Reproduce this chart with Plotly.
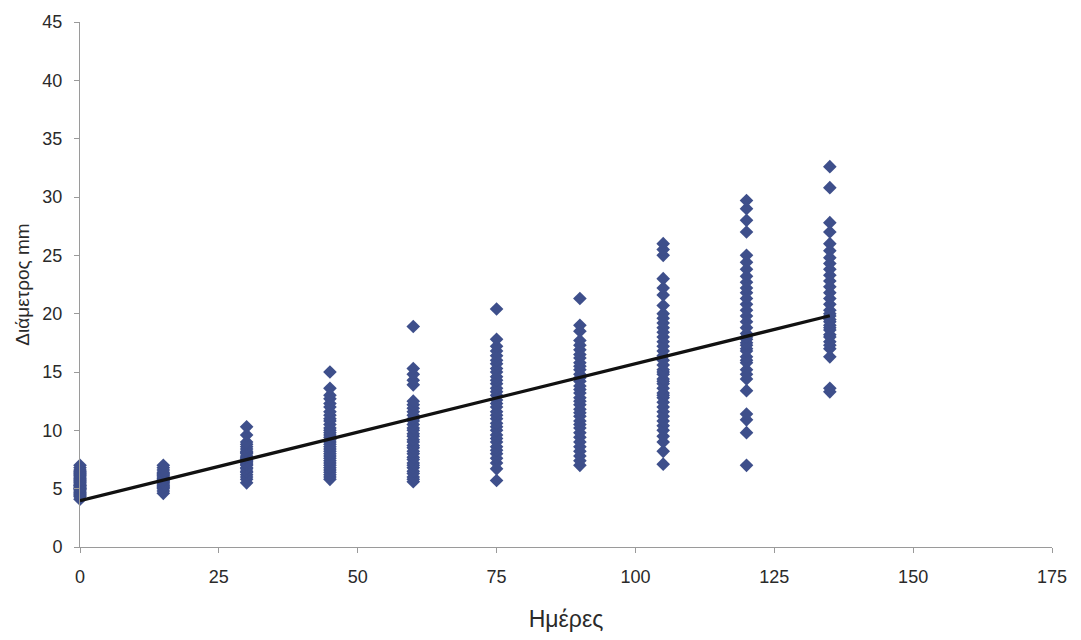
import numpy as np
import plotly.graph_objects as go

# Sampling days
days = [0, 15, 30, 45, 60, 75, 90, 105, 120, 135]

# Measured diameters (mm) per sampling day
d0 = [4.1, 4.3, 4.4, 4.5, 4.6, 4.7, 4.8, 4.9, 5.0, 5.0, 5.1, 5.2, 5.3, 5.3, 5.4,
      5.5, 5.6, 5.7, 5.8, 5.9, 6.0, 6.1, 6.2, 6.3, 6.4, 6.5, 6.6, 6.8, 7.0]
d15 = [4.6, 4.8, 5.0, 5.1, 5.2, 5.3, 5.4, 5.5, 5.6, 5.7, 5.8, 5.9, 6.0, 6.1, 6.2,
       6.3, 6.4, 6.6, 6.8, 7.0]
d30 = [5.5, 5.8, 6.0, 6.2, 6.4, 6.5, 6.7, 6.8, 7.0, 7.1, 7.2, 7.3, 7.4, 7.5, 7.6,
       7.7, 7.8, 8.0, 8.1, 8.2, 8.4, 8.6, 8.8, 9.0, 9.6, 10.3]
d45 = [5.8, 6.0, 6.2, 6.4, 6.6, 6.8, 7.0, 7.2, 7.4, 7.6, 7.8, 8.0, 8.2, 8.4, 8.6,
       8.8, 9.0, 9.2, 9.4, 9.6, 9.8, 10.0, 10.2, 10.5, 10.8, 11.0, 11.3, 11.6, 12.0,
       12.3, 12.7, 13.0, 13.6, 15.0]
d60 = [5.6, 5.8, 6.0, 6.3, 6.5, 6.8, 7.0, 7.2, 7.5, 7.7, 8.0, 8.2, 8.5, 8.7, 9.0,
       9.2, 9.5, 9.7, 10.0, 10.2, 10.5, 10.8, 11.0, 11.3, 11.6, 11.9, 12.2, 12.5,
       13.9, 14.3, 14.8, 15.3, 18.9]
d75 = [5.7, 6.7, 7.2, 7.6, 8.0, 8.3, 8.6, 9.0, 9.3, 9.6, 10.0, 10.3, 10.6, 11.0,
       11.3, 11.6, 12.0, 12.3, 12.6, 13.0, 13.3, 13.6, 14.0, 14.3, 14.6, 15.0, 15.3,
       15.7, 16.0, 16.4, 16.8, 17.2, 17.8, 20.4]
d90 = [7.0, 7.4, 7.8, 8.2, 8.6, 9.0, 9.4, 9.8, 10.2, 10.5, 10.8, 11.2, 11.5, 11.8,
       12.2, 12.5, 12.8, 13.2, 13.5, 13.8, 14.2, 14.5, 14.8, 15.2, 15.5, 15.8, 16.2,
       16.5, 16.9, 17.3, 17.7, 18.5, 19.0, 21.3]
d105 = [7.1, 8.2, 9.0, 9.5, 10.0, 10.4, 10.8, 11.2, 11.6, 12.0, 12.4, 12.8, 13.0,
        13.2, 13.6, 14.0, 14.2, 14.4, 14.8, 15.0, 15.2, 15.6, 16.0, 16.4, 16.8, 17.2,
        17.6, 18.0, 18.4, 18.8, 19.2, 19.6, 20.0, 20.7, 21.6, 22.2, 23.0, 25.0, 25.5,
        26.0]
d120 = [7.0, 9.8, 10.9, 11.4, 13.4, 14.4, 14.8, 15.2, 15.8, 16.0, 16.3, 16.8, 17.0,
        17.3, 17.5, 17.8, 18.0, 18.3, 18.8, 19.3, 19.8, 20.3, 20.8, 21.3, 21.8, 22.2,
        22.7, 23.2, 23.8, 24.4, 25.0, 27.0, 28.0, 29.0, 29.7]
d135 = [13.3, 13.6, 16.3, 17.0, 17.3, 17.6, 18.0, 18.2, 18.6, 18.8, 19.0, 19.3, 19.5,
        19.8, 20.0, 20.3, 20.8, 21.3, 21.8, 22.3, 22.8, 23.3, 23.8, 24.3, 24.8, 25.4,
        26.0, 27.0, 27.8, 30.8, 32.6]

groups = [d0, d15, d30, d45, d60, d75, d90, d105, d120, d135]

x_pts = [d for d, g in zip(days, groups) for _ in g]
y_pts = [v for g in groups for v in g]

# Linear trend fitted to all measurements
slope, intercept = np.polyfit(x_pts, y_pts, 1)
trend_x = [min(days), max(days)]
trend_y = [intercept + slope * t for t in trend_x]

x_ticks = [0, 25, 50, 75, 100, 125, 150, 175]
y_ticks = [0, 5, 10, 15, 20, 25, 30, 35, 40, 45]

fig = go.Figure()
fig.add_trace(go.Scatter(
    x=x_pts, y=y_pts, mode="markers",
    marker=dict(symbol="diamond", size=10.5, color="#3e4f8b", line=dict(width=0)),
    showlegend=False, hoverinfo="x+y", cliponaxis=False,
))
fig.add_trace(go.Scatter(
    x=trend_x, y=trend_y, mode="lines",
    line=dict(color="#111111", width=3.2),
    showlegend=False, hoverinfo="skip", cliponaxis=False,
))

font_family = "Liberation Sans, Arial, sans-serif"
text_color = "#2a2a2a"
fig.update_layout(
    width=1081, height=640,
    margin=dict(l=80, r=29, t=20, b=92),
    paper_bgcolor="white", plot_bgcolor="white",
    font=dict(family=font_family, color=text_color),
    xaxis=dict(
        range=[0, 175], tickvals=x_ticks, showgrid=False, zeroline=False,
        showline=True, linecolor="#9a9a9a", linewidth=1,
        ticks="outside", ticklen=5, tickcolor="#9a9a9a",
        ticklabelstandoff=8,
        tickfont=dict(size=18, color=text_color),
        title=dict(text="Ημέρες", font=dict(size=23, color=text_color), standoff=25),
    ),
    yaxis=dict(
        range=[0, 45], tickvals=y_ticks, showgrid=False, zeroline=False,
        showline=True, linecolor="#9a9a9a", linewidth=1,
        ticks="outside", ticklen=5, tickcolor="#9a9a9a",
        ticklabelstandoff=8,
        tickfont=dict(size=18, color=text_color),
        title=dict(text="Διάμετρος mm", font=dict(size=19, color=text_color), standoff=7),
    ),
)

fig.write_html("out.html")
